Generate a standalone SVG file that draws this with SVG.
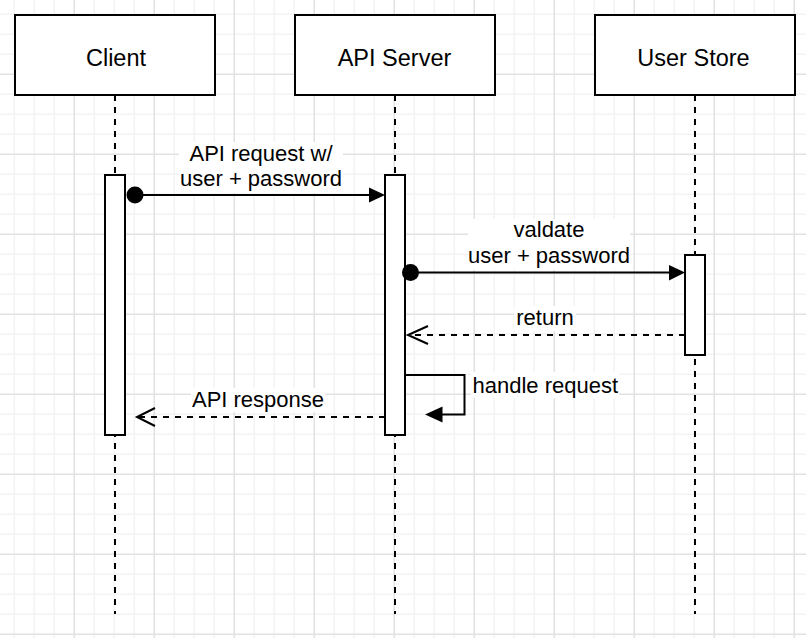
<svg xmlns="http://www.w3.org/2000/svg" width="806" height="638" viewBox="0 0 806 638">
  <style>
    text { font-family: "Liberation Sans", Arial, Helvetica, sans-serif; fill: #000; }
    .head { font-size: 23.5px; text-anchor: middle; }
    .msg { font-size: 22px; text-anchor: middle; }
    .box { fill: #fff; stroke: #000; stroke-width: 2; }
    .life { fill: none; stroke: #000; stroke-width: 2; stroke-dasharray: 6 6; }
    .solid { fill: none; stroke: #000; stroke-width: 2; }
    .dash { fill: none; stroke: #000; stroke-width: 2; stroke-dasharray: 6 6; }
    .open { fill: none; stroke: #000; stroke-width: 2; }
    .fillhead { fill: #000; stroke: none; }
    .lblbg { fill: #fff; }
  </style>
  <defs>
    <pattern id="grid" x="4" y="4" width="80" height="80" patternUnits="userSpaceOnUse">
      <g fill="#f3f3f3">
        <rect x="9.5" y="0" width="1.5" height="80"/>
        <rect x="29.5" y="0" width="1.5" height="80"/>
        <rect x="49.5" y="0" width="1.5" height="80"/>
        <rect x="0" y="9.5" width="80" height="1.5"/>
        <rect x="0" y="29.5" width="80" height="1.5"/>
        <rect x="0" y="49.5" width="80" height="1.5"/>
      </g>
      <g fill="#e2e2e2">
        <rect x="69.5" y="0" width="1.5" height="80"/>
        <rect x="0" y="69.5" width="80" height="1.5"/>
      </g>
    </pattern>
  </defs>

  <!-- canvas grid -->
  <rect x="0" y="0" width="806" height="638" fill="#fff"/>
  <rect x="0" y="0" width="806" height="638" fill="url(#grid)"/>

  <!-- lifelines -->
  <g id="lifelines">
    <line class="life" x1="115" y1="95" x2="115" y2="614"/>
    <line class="life" x1="395" y1="95" x2="395" y2="614"/>
    <line class="life" x1="695" y1="95" x2="695" y2="614"/>
  </g>

  <!-- participants -->
  <g id="client">
    <rect class="box" x="15" y="15" width="200" height="80"/>
    <text class="head" x="116" y="65.5">Client</text>
    <rect class="box" x="105" y="175" width="20" height="260"/>
  </g>
  <g id="api-server">
    <rect class="box" x="295" y="15" width="200" height="80"/>
    <text class="head" x="394.5" y="65.5">API Server</text>
    <rect class="box" x="385" y="175" width="20" height="260"/>
  </g>
  <g id="user-store">
    <rect class="box" x="595" y="15" width="200" height="80"/>
    <text class="head" x="693.5" y="65.5">User Store</text>
    <rect class="box" x="685" y="255" width="20" height="100"/>
  </g>

  <!-- messages -->
  <g id="connectors">
    <!-- API request -->
    <line class="solid" x1="135" y1="195" x2="370" y2="195"/>
    <circle cx="135" cy="195" r="8.5" fill="#000"/>
    <polygon class="fillhead" points="385,195 369,187.5 369,202.5"/>
    <rect class="lblbg" x="179" y="142" width="164" height="51"/>
    <text class="msg" x="261" y="160.5">API request w/</text>
    <text class="msg" x="261" y="186">user + password</text>

    <!-- validate -->
    <line class="solid" x1="411" y1="272.5" x2="670" y2="272.5"/>
    <circle cx="410.5" cy="272.5" r="8.5" fill="#000"/>
    <polygon class="fillhead" points="685,272.5 669,265 669,280.5"/>
    <rect class="lblbg" x="468" y="219" width="162" height="51"/>
    <text class="msg" x="549" y="237">valdate</text>
    <text class="msg" x="549" y="263">user + password</text>

    <!-- return -->
    <line class="dash" x1="685" y1="335" x2="410" y2="335"/>
    <polyline class="open" points="428,326 408,335 428,344"/>
    <rect class="lblbg" x="514" y="306" width="62" height="25"/>
    <text class="msg" x="545" y="325">return</text>

    <!-- handle request (self call) -->
    <polyline class="solid" points="405,375 464.5,375 464.5,414.5 440,414.5"/>
    <polygon class="fillhead" points="425,414.5 442.5,406.5 442.5,422.5"/>
    <rect class="lblbg" x="471" y="372" width="148" height="26"/>
    <text class="msg" x="472.5" y="393" style="text-anchor:start">handle request</text>

    <!-- API response -->
    <line class="dash" x1="385" y1="417" x2="139" y2="417"/>
    <polyline class="open" points="155,408 137,417 155,426"/>
    <rect class="lblbg" x="191" y="388" width="134" height="24"/>
    <text class="msg" x="258" y="406.5">API response</text>
  </g>
</svg>
